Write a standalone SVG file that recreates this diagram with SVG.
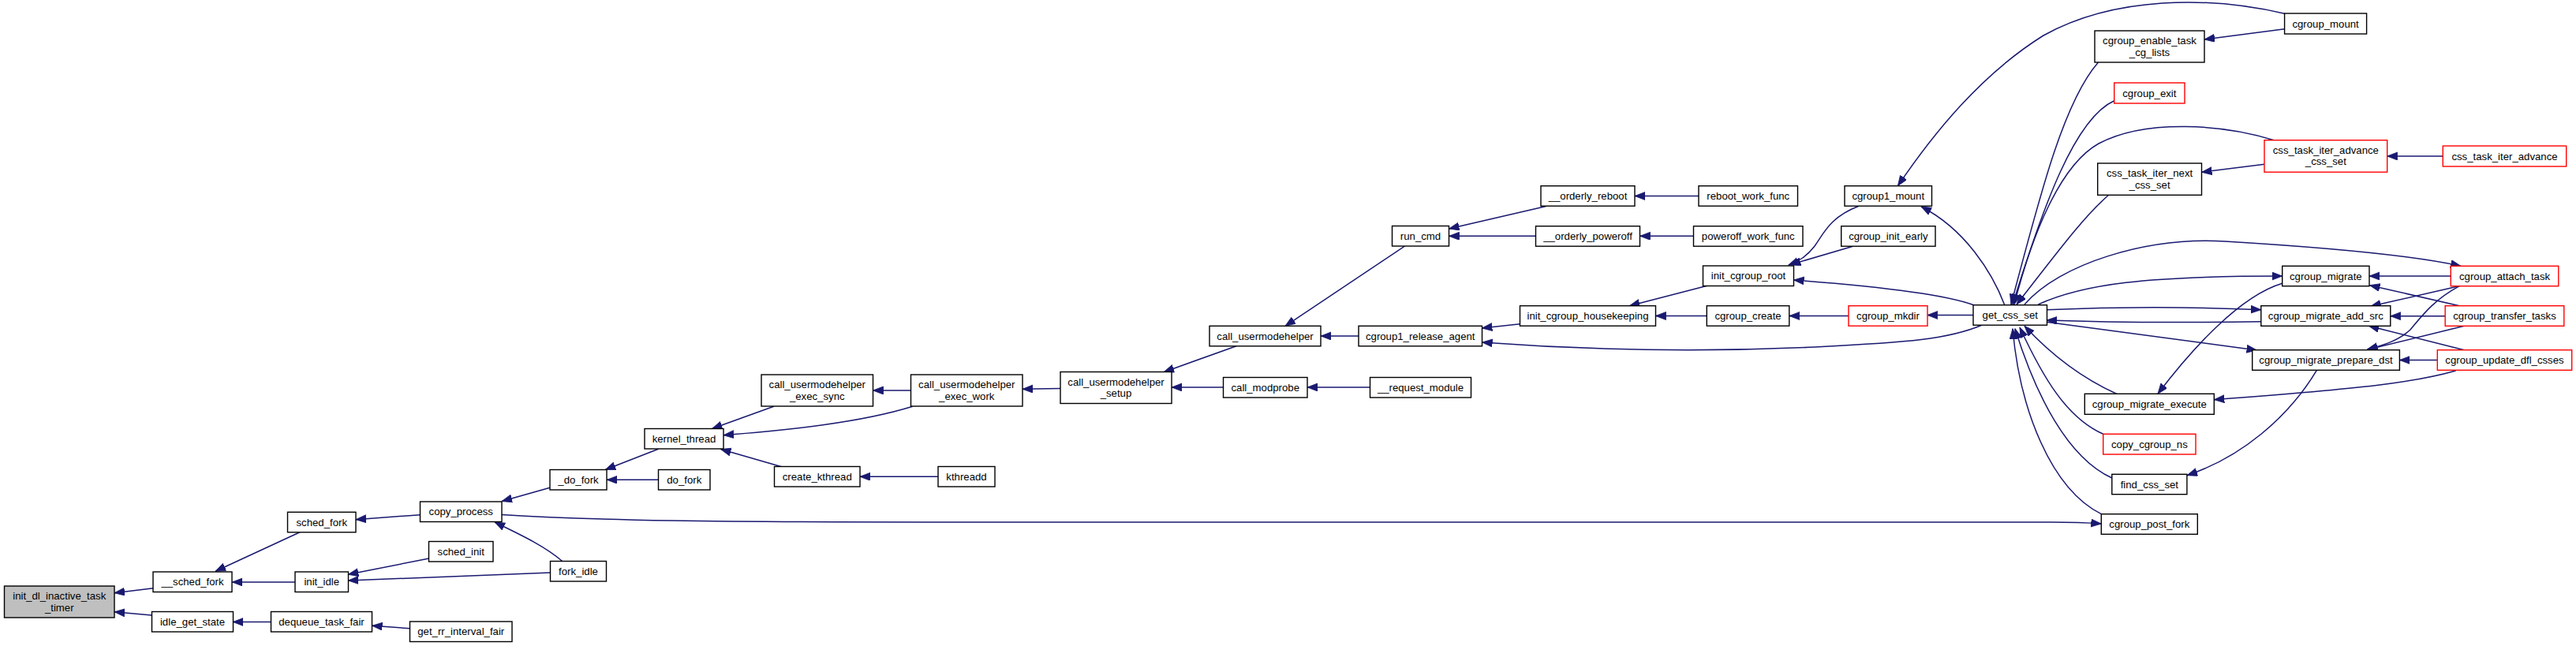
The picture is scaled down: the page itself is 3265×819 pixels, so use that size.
<svg xmlns="http://www.w3.org/2000/svg" width="3265" height="819" viewBox="0 0 3265 819">
<style>
.n rect{fill:#fff;stroke:#000;stroke-width:1.4}
.n.r rect{stroke:#ff0000}
.n.root rect{fill:#bfbfbf}
.n text{font-family:"Liberation Sans",Arial,sans-serif;font-size:13.2px;text-anchor:middle;fill:#000}
#edges path{fill:none;stroke:#191970;stroke-width:1.5;marker-end:url(#a)}
</style>
<defs>
<marker id="a" markerUnits="userSpaceOnUse" markerWidth="14" markerHeight="11" refX="13" refY="5" orient="auto">
<path d="M0,0 L13,5 L0,10 z" fill="#191970" stroke="#191970" stroke-width="0.8"/>
</marker>
</defs>
<rect width="3265" height="819" fill="#fff"/>
<g id="edges">
<path d="M194.2,745.7 L145,751.7"/>
<path d="M192.4,780 L145,775.7"/>
<path d="M380,674.7 L273,724.3"/>
<path d="M374.2,738 L294.3,738"/>
<path d="M343.5,788.5 L295.3,788.5"/>
<path d="M532.7,652.7 L451,658.7"/>
<path d="M543.7,708 L441.3,728.3"/>
<path d="M697.5,726 L441.3,736"/>
<path d="M713,711.7 C690,692 660,678 627,662"/>
<path d="M519.4,796.7 L471.6,793.3"/>
<path d="M697,618.3 L636,635.5"/>
<path d="M834.4,608.3 L769.2,608.3"/>
<path d="M834.4,569.3 L767.2,595.5"/>
<path d="M980.7,515.3 L902.4,543.5"/>
<path d="M1156.7,515.3 C1090,536 1000,545 917,551.7"/>
<path d="M1154.3,495 L1106.5,495"/>
<path d="M990.6,591.7 L913.5,569.5"/>
<path d="M1189,604.3 L1089.9,604.3"/>
<path d="M1344,492.5 L1296,493.3"/>
<path d="M1567,438.7 L1475,471.7"/>
<path d="M1550.5,491 L1485,491"/>
<path d="M1736.4,491 L1657,491"/>
<path d="M1780.5,312 L1629,413.3"/>
<path d="M1722.2,426 L1674,426"/>
<path d="M1959.6,261.5 L1836.5,290"/>
<path d="M1946.3,299.3 L1836.5,299.3"/>
<path d="M2153,248.5 L2072,248.5"/>
<path d="M2146.4,299.3 L2078.6,299.3"/>
<path d="M1926.6,410.7 L1878.3,416"/>
<path d="M2511.7,412.3 C2470,430 2420,434 2300,440 C2150,447 2000,443 1878.6,434"/>
<path d="M2163.8,362.3 L2065.3,387.7"/>
<path d="M2163.3,400.5 L2098.5,400.5"/>
<path d="M2342.9,400.5 L2267.9,400.5"/>
<path d="M2501,399.5 L2442.9,399.5"/>
<path d="M2356,261.3 C2320,275 2312,295 2300,312 C2290,325 2280,331 2266.8,336"/>
<path d="M2348.5,312.3 L2269.4,335.5"/>
<path d="M2501,386.5 C2475,377 2420,366 2273.5,355"/>
<path d="M2540.8,386.7 C2525,345 2490,290 2435,262"/>
<path d="M2895.6,17.3 C2800,-5 2680,-5 2590,45 C2510,95 2450,170 2405.4,235.7"/>
<path d="M2895.6,36.7 L2794,50"/>
<path d="M2659.3,79.3 C2615,130 2585,250 2549,386"/>
<path d="M2679.7,127.7 C2630,150 2590,260 2551,386"/>
<path d="M2882,177.7 C2820,158 2720,150 2660,182 C2610,210 2575,300 2553,386"/>
<path d="M2870,208.3 L2790.5,218.3"/>
<path d="M3096.3,198 L3025.7,198"/>
<path d="M2672.7,247.3 C2640,275 2600,330 2556,386"/>
<path d="M2566,386 C2610,335 2720,300 2820,306 C2920,312 3050,322 3119,337.3"/>
<path d="M2583.4,386 C2640,360 2720,350 2892.7,350"/>
<path d="M2594,392.7 C2680,389 2780,389 2865.8,392.7"/>
<path d="M2865.8,407.7 C2780,409 2680,409 2594,406"/>
<path d="M2594,408.3 L2860.6,444"/>
<path d="M3106.3,350 L3003,350"/>
<path d="M3117.3,387.7 L3003.5,361.7"/>
<path d="M3114.4,363.3 L3004.7,388.3"/>
<path d="M3099.2,400.7 L3029.8,400.7"/>
<path d="M3123.2,443.7 L3002.4,413.3"/>
<path d="M3117.3,362.7 C3085,380 3070,400 3055,418 C3040,432 3020,438 3000.6,442.7"/>
<path d="M3123.2,413.3 L3000.6,443.3"/>
<path d="M3089.3,456.5 L3041.4,456.5"/>
<path d="M2892.7,359.3 C2840,375 2780,440 2735,499.3"/>
<path d="M3112.6,470 C3060,485 3000,492 2806.3,506.7"/>
<path d="M2682.6,499.3 C2640,480 2600,450 2566,413.3"/>
<path d="M2665.7,550.3 C2620,530 2590,480 2560,415"/>
<path d="M2676.8,606 C2620,580 2580,500 2554,416.7"/>
<path d="M2663.3,651.7 C2600,620 2560,520 2551,416.7"/>
<path d="M2936.4,469.3 C2900,530 2840,580 2771.9,602.7"/>
<path d="M636,652.5 C760,660 900,662 1200,662 L2600,662 C2630,662 2650,663 2663.3,664"/>
</g>
<g id="init_dl_inactive_task_timer" class="n root"><rect x="5.5" y="743" width="139.5" height="40"/><text x="75.25" y="760">init_dl_inactive_task</text><text x="75.25" y="774.5">_timer</text></g>
<g id="__sched_fork" class="n"><rect x="194" y="725" width="100" height="25.5"/><text x="244" y="742.45">__sched_fork</text></g>
<g id="idle_get_state" class="n"><rect x="192.5" y="775.5" width="103" height="25.5"/><text x="244" y="792.95">idle_get_state</text></g>
<g id="sched_fork" class="n"><rect x="364.5" y="649.3" width="86.5" height="25.5"/><text x="407.75" y="666.75">sched_fork</text></g>
<g id="init_idle" class="n"><rect x="374" y="725" width="67.5" height="25.5"/><text x="407.75" y="742.45">init_idle</text></g>
<g id="dequeue_task_fair" class="n"><rect x="343.5" y="775.5" width="128" height="25.5"/><text x="407.5" y="792.95">dequeue_task_fair</text></g>
<g id="copy_process" class="n"><rect x="532.5" y="636" width="103.5" height="25.5"/><text x="584.25" y="653.45">copy_process</text></g>
<g id="sched_init" class="n"><rect x="543.5" y="686.5" width="81.5" height="25.5"/><text x="584.25" y="703.95">sched_init</text></g>
<g id="fork_idle" class="n"><rect x="697.5" y="711.5" width="71" height="25.5"/><text x="733" y="728.95">fork_idle</text></g>
<g id="get_rr_interval_fair" class="n"><rect x="519.5" y="788" width="129.5" height="25.5"/><text x="584.25" y="805.45">get_rr_interval_fair</text></g>
<g id="_do_fork" class="n"><rect x="697" y="595.5" width="72" height="25.5"/><text x="733" y="612.95">_do_fork</text></g>
<g id="do_fork" class="n"><rect x="834.5" y="595.5" width="65.5" height="25.5"/><text x="867.25" y="612.95">do_fork</text></g>
<g id="kernel_thread" class="n"><rect x="817" y="543.5" width="100" height="25.5"/><text x="867" y="560.95">kernel_thread</text></g>
<g id="call_usermodehelper_exec_sync" class="n"><rect x="965" y="475" width="141.5" height="40"/><text x="1035.75" y="492">call_usermodehelper</text><text x="1035.75" y="506.5">_exec_sync</text></g>
<g id="call_usermodehelper_exec_work" class="n"><rect x="1154.5" y="475" width="141.5" height="40"/><text x="1225.25" y="492">call_usermodehelper</text><text x="1225.25" y="506.5">_exec_work</text></g>
<g id="create_kthread" class="n"><rect x="981.5" y="591.5" width="108.5" height="25.5"/><text x="1035.75" y="608.95">create_kthread</text></g>
<g id="kthreadd" class="n"><rect x="1189" y="591.5" width="72" height="25.5"/><text x="1225" y="608.95">kthreadd</text></g>
<g id="call_usermodehelper_setup" class="n"><rect x="1344" y="471.5" width="141" height="40"/><text x="1414.5" y="488.5">call_usermodehelper</text><text x="1414.5" y="503">_setup</text></g>
<g id="call_usermodehelper" class="n"><rect x="1533" y="413.3" width="141" height="25.5"/><text x="1603.5" y="430.75">call_usermodehelper</text></g>
<g id="call_modprobe" class="n"><rect x="1550.5" y="478.5" width="106.5" height="25.5"/><text x="1603.75" y="495.95">call_modprobe</text></g>
<g id="__request_module" class="n"><rect x="1736.5" y="478.5" width="128" height="25.5"/><text x="1800.5" y="495.95">__request_module</text></g>
<g id="run_cmd" class="n"><rect x="1764.5" y="286.5" width="72" height="25.5"/><text x="1800.5" y="303.95">run_cmd</text></g>
<g id="cgroup1_release_agent" class="n"><rect x="1722" y="413.3" width="156.5" height="25.5"/><text x="1800.25" y="430.75">cgroup1_release_agent</text></g>
<g id="__orderly_reboot" class="n"><rect x="1953" y="235.7" width="119" height="25.5"/><text x="2012.5" y="253.15">__orderly_reboot</text></g>
<g id="reboot_work_func" class="n"><rect x="2153" y="235.7" width="125.5" height="25.5"/><text x="2215.75" y="253.15">reboot_work_func</text></g>
<g id="__orderly_poweroff" class="n"><rect x="1946.5" y="286.7" width="132" height="25.5"/><text x="2012.5" y="304.15">__orderly_poweroff</text></g>
<g id="poweroff_work_func" class="n"><rect x="2146.5" y="286.7" width="138.5" height="25.5"/><text x="2215.75" y="304.15">poweroff_work_func</text></g>
<g id="init_cgroup_housekeeping" class="n"><rect x="1926.5" y="387.7" width="172" height="25.5"/><text x="2012.5" y="405.15">init_cgroup_housekeeping</text></g>
<g id="init_cgroup_root" class="n"><rect x="2158.5" y="337" width="115" height="25.5"/><text x="2216" y="354.45">init_cgroup_root</text></g>
<g id="cgroup_create" class="n"><rect x="2163.3" y="387.7" width="104.5" height="25.5"/><text x="2215.55" y="405.15">cgroup_create</text></g>
<g id="cgroup_mkdir" class="n r"><rect x="2343" y="387.7" width="100" height="25.5"/><text x="2393" y="405.15">cgroup_mkdir</text></g>
<g id="cgroup1_mount" class="n"><rect x="2338" y="235.7" width="110.5" height="25.5"/><text x="2393.25" y="253.15">cgroup1_mount</text></g>
<g id="cgroup_init_early" class="n"><rect x="2333.7" y="286.7" width="119.3" height="25.5"/><text x="2393.35" y="304.15">cgroup_init_early</text></g>
<g id="get_css_set" class="n"><rect x="2501" y="386.7" width="93.5" height="25.5"/><text x="2547.75" y="404.15">get_css_set</text></g>
<g id="cgroup_mount" class="n"><rect x="2895.6" y="17" width="104" height="26"/><text x="2947.6" y="34.7">cgroup_mount</text></g>
<g id="cgroup_enable_task_cg_lists" class="n"><rect x="2655" y="39" width="139" height="40"/><text x="2724.5" y="56">cgroup_enable_task</text><text x="2724.5" y="70.5">_cg_lists</text></g>
<g id="cgroup_exit" class="n r"><rect x="2679.7" y="105" width="89.3" height="26"/><text x="2724.35" y="122.7">cgroup_exit</text></g>
<g id="css_task_iter_advance_css_set" class="n r"><rect x="2870" y="177.7" width="155.7" height="40.5"/><text x="2947.85" y="194.95">css_task_iter_advance</text><text x="2947.85" y="209.45">_css_set</text></g>
<g id="css_task_iter_advance" class="n r"><rect x="3096.3" y="185" width="156.4" height="26"/><text x="3174.5" y="202.7">css_task_iter_advance</text></g>
<g id="css_task_iter_next_css_set" class="n"><rect x="2658.7" y="207" width="131.8" height="40.3"/><text x="2724.6" y="224.15">css_task_iter_next</text><text x="2724.6" y="238.65">_css_set</text></g>
<g id="cgroup_migrate" class="n"><rect x="2892.7" y="337.3" width="110.3" height="25.4"/><text x="2947.85" y="354.7">cgroup_migrate</text></g>
<g id="cgroup_attach_task" class="n r"><rect x="3106.3" y="337.3" width="136.5" height="25.4"/><text x="3174.55" y="354.7">cgroup_attach_task</text></g>
<g id="cgroup_migrate_add_src" class="n"><rect x="2865.8" y="387.7" width="164" height="25.6"/><text x="2947.8" y="405.2">cgroup_migrate_add_src</text></g>
<g id="cgroup_transfer_tasks" class="n r"><rect x="3099.2" y="387.7" width="150.6" height="25.6"/><text x="3174.5" y="405.2">cgroup_transfer_tasks</text></g>
<g id="cgroup_migrate_prepare_dst" class="n"><rect x="2854.7" y="443.7" width="186.7" height="25.6"/><text x="2948.05" y="461.2">cgroup_migrate_prepare_dst</text></g>
<g id="cgroup_update_dfl_csses" class="n r"><rect x="3089.3" y="443.7" width="170.4" height="25.6"/><text x="3174.5" y="461.2">cgroup_update_dfl_csses</text></g>
<g id="cgroup_migrate_execute" class="n"><rect x="2642.3" y="499.3" width="164" height="26"/><text x="2724.3" y="517">cgroup_migrate_execute</text></g>
<g id="copy_cgroup_ns" class="n r"><rect x="2665.7" y="550.3" width="117.3" height="25.7"/><text x="2724.35" y="567.85">copy_cgroup_ns</text></g>
<g id="find_css_set" class="n"><rect x="2676.8" y="601.3" width="95.1" height="25.4"/><text x="2724.35" y="618.7">find_css_set</text></g>
<g id="cgroup_post_fork" class="n"><rect x="2663.3" y="651.7" width="122" height="25.6"/><text x="2724.3" y="669.2">cgroup_post_fork</text></g>
</svg>
